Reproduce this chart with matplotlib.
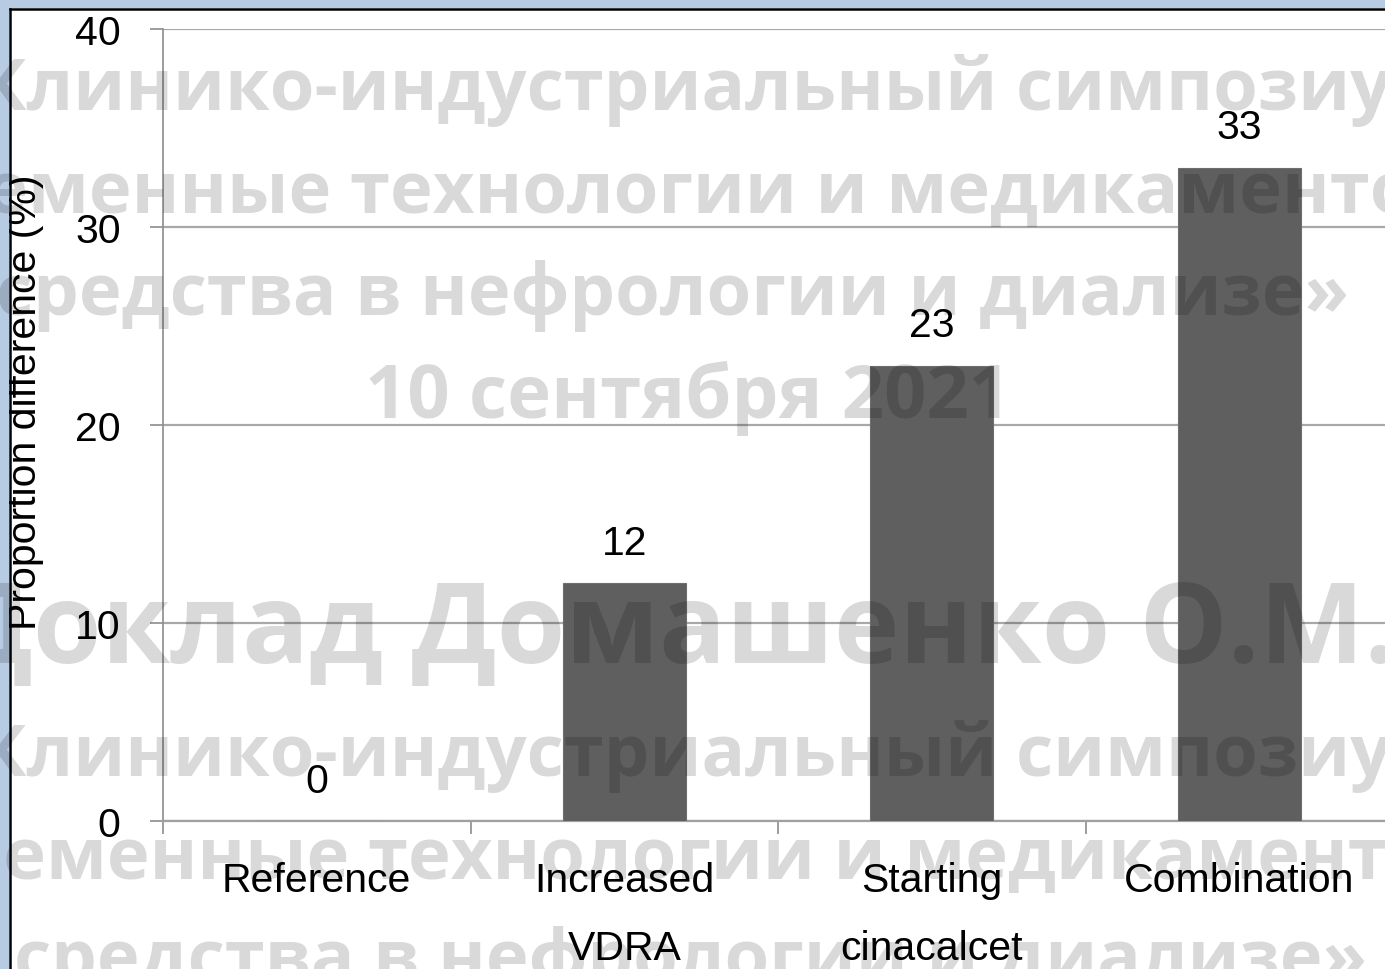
import matplotlib
matplotlib.use("Agg")
import matplotlib.pyplot as plt
from matplotlib.patches import Rectangle
from matplotlib.lines import Line2D

# ---- data ----
categories = ["Reference", "Increased\nVDRA", "Starting\ncinacalcet", "Combination"]
values = [0, 12, 23, 33]
y_ticks = [0, 10, 20, 30, 40]
y_label = "Proportion difference (%)"

# watermark lines (text, centre x px, baseline y px, font size pt)
wm_texts = ["Клинико-индустриальный симпозиум",
            "«Современные технологии и медикаментозные",
            "средства в нефрологии и диализе»",
            "10 сентября 2021",
            "Доклад Домашенко О.М.",
            "Клинико-индустриальный симпозиум",
            "«Современные технологии и медикаментозные",
            "средства в нефрологии и диализе»"]
wm_x = [715, 682, 673, 688, 672, 715, 700, 690]
wm_y = [110, 213, 315, 418, 663, 776, 879, 981]
wm_size = [52, 52, 52, 53.5, 80, 52, 52, 52]

W, H = 1385, 970
plt.rcParams["font.family"] = ["Liberation Sans", "DejaVu Sans"]
FS = 29.5

fig = plt.figure(figsize=(W / 100, H / 100), dpi=100)
fig.patch.set_facecolor("white")

# plot area
ax = fig.add_axes([163 / W, (H - 822) / H, 1230 / W, 792 / H])
ax.set_facecolor("none")
x = list(range(len(categories)))
ax.bar(x, values, width=0.4, color="#5f5f5f", edgecolor="#6e6e6e",
       linewidth=0.8, zorder=3)
ax.set_xlim(-0.5, len(categories) - 0.5)
ax.set_ylim(0, 40)
ax.set_yticks(y_ticks)
ax.yaxis.grid(True, color="#a8a8a8", linewidth=1.6, zorder=0)
ax.set_axisbelow(True)

for s in ["top", "right"]:
    ax.spines[s].set_visible(False)
ax.spines["left"].set_color("#8c8c8c")
ax.spines["left"].set_linewidth(1.2)
ax.spines["bottom"].set_color("#a0a0a0")
ax.spines["bottom"].set_linewidth(1.6)

ax.tick_params(axis="y", length=9.5, width=1.2, color="#8c8c8c",
               labelsize=FS, pad=21)
# category boundaries carry the tick marks, centres carry the labels
ax.set_xticks([i - 0.5 for i in range(len(categories) + 1)])
ax.set_xticklabels([])
ax.tick_params(axis="x", which="major", length=9.5, width=1.2, color="#8c8c8c")
ax.set_xticks(x, minor=True)
ax.set_xticklabels(categories, minor=True, fontsize=FS, linespacing=1.98,
                   va="top")
ax.tick_params(axis="x", which="minor", length=0, pad=29)

for xi, v in zip(x, values):
    ax.annotate(f"{v}", (xi, v), xytext=(0, 21), textcoords="offset points",
                ha="center", va="baseline", fontsize=FS, color="black")

fig.text(25 / W, 1 - 402 / H, y_label, rotation=90, ha="center",
         va="center", fontsize=FS)

# slide frame
fig.add_artist(Rectangle((0, 1 - 9 / H), 1, 9 / H, transform=fig.transFigure,
                         facecolor="#b7cbe3", edgecolor="none", zorder=5))
fig.add_artist(Rectangle((0, 0), 9 / W, 1, transform=fig.transFigure,
                         facecolor="#b7cbe3", edgecolor="none", zorder=5))
fig.add_artist(Line2D([9.5 / W, 1], [1 - 10 / H, 1 - 10 / H],
                      transform=fig.transFigure, color="black", lw=1.8, zorder=6))
fig.add_artist(Line2D([9.5 / W, 9.5 / W], [0, 1 - 10 / H],
                      transform=fig.transFigure, color="black", lw=1.8, zorder=6))

# watermark overlay
for t, px, py, fs in zip(wm_texts, wm_x, wm_y, wm_size):
    fig.text(px / W, 1 - py / H, t, ha="center", va="baseline",
             fontsize=fs, fontweight="bold",
             family=["Open Sans", "DejaVu Sans"],
             color="black", alpha=0.15, zorder=10)

fig.savefig("out.png", dpi=100)
